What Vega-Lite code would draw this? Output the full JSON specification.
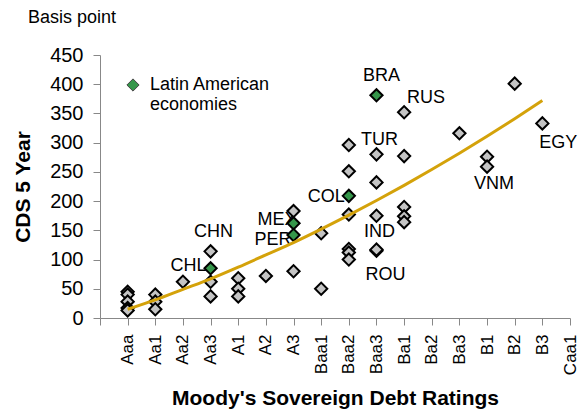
{
  "$schema": "https://vega.github.io/schema/vega-lite/v6.json",
  "width": 470,
  "height": 263,
  "autosize": {"type": "none"},
  "padding": {"left": 100, "top": 55, "right": 12, "bottom": 93},
  "background": "white",
  "config": {
    "view": {"stroke": null},
    "font": "Liberation Sans",
    "axis": {"domainColor": "#888888", "tickColor": "#888888", "grid": false, "labelColor": "#000000", "titleColor": "#000000", "labelFont": "Liberation Sans", "titleFont": "Liberation Sans"}
  },
  "title": {"text": "Basis point", "anchor": "start", "frame": "group", "dx": -72, "offset": 18, "fontSize": 18, "fontWeight": "normal", "font": "Liberation Sans", "color": "#000000"},
  "datasets": {
    "points": [
      {"rating": "Aaa", "cds": 45, "group": "Other", "name": ""},
      {"rating": "Aaa", "cds": 40, "group": "Other", "name": ""},
      {"rating": "Aaa", "cds": 28, "group": "Other", "name": ""},
      {"rating": "Aaa", "cds": 17, "group": "Other", "name": ""},
      {"rating": "Aaa", "cds": 13, "group": "Other", "name": ""},
      {"rating": "Aa1", "cds": 40, "group": "Other", "name": ""},
      {"rating": "Aa1", "cds": 28, "group": "Other", "name": ""},
      {"rating": "Aa1", "cds": 15, "group": "Other", "name": ""},
      {"rating": "Aa2", "cds": 62, "group": "Other", "name": ""},
      {"rating": "Aa3", "cds": 114, "group": "Other", "name": "CHN"},
      {"rating": "Aa3", "cds": 62, "group": "Other", "name": ""},
      {"rating": "Aa3", "cds": 37, "group": "Other", "name": ""},
      {"rating": "A1", "cds": 68, "group": "Other", "name": ""},
      {"rating": "A1", "cds": 50, "group": "Other", "name": ""},
      {"rating": "A1", "cds": 37, "group": "Other", "name": ""},
      {"rating": "A2", "cds": 72, "group": "Other", "name": ""},
      {"rating": "A3", "cds": 183, "group": "Other", "name": ""},
      {"rating": "A3", "cds": 80, "group": "Other", "name": ""},
      {"rating": "Baa1", "cds": 145, "group": "Other", "name": ""},
      {"rating": "Baa1", "cds": 50, "group": "Other", "name": ""},
      {"rating": "Baa2", "cds": 296, "group": "Other", "name": ""},
      {"rating": "Baa2", "cds": 251, "group": "Other", "name": ""},
      {"rating": "Baa2", "cds": 177, "group": "Other", "name": ""},
      {"rating": "Baa2", "cds": 118, "group": "Other", "name": ""},
      {"rating": "Baa2", "cds": 112, "group": "Other", "name": ""},
      {"rating": "Baa2", "cds": 100, "group": "Other", "name": ""},
      {"rating": "Baa3", "cds": 280, "group": "Other", "name": "TUR"},
      {"rating": "Baa3", "cds": 232, "group": "Other", "name": ""},
      {"rating": "Baa3", "cds": 175, "group": "Other", "name": "IND"},
      {"rating": "Baa3", "cds": 115, "group": "Other", "name": ""},
      {"rating": "Baa3", "cds": 117, "group": "Other", "name": "ROU"},
      {"rating": "Ba1", "cds": 352, "group": "Other", "name": "RUS"},
      {"rating": "Ba1", "cds": 277, "group": "Other", "name": ""},
      {"rating": "Ba1", "cds": 190, "group": "Other", "name": ""},
      {"rating": "Ba1", "cds": 174, "group": "Other", "name": ""},
      {"rating": "Ba1", "cds": 164, "group": "Other", "name": ""},
      {"rating": "Ba3", "cds": 316, "group": "Other", "name": ""},
      {"rating": "B1", "cds": 276, "group": "Other", "name": ""},
      {"rating": "B1", "cds": 259, "group": "Other", "name": "VNM"},
      {"rating": "B2", "cds": 401, "group": "Other", "name": ""},
      {"rating": "B3", "cds": 333, "group": "Other", "name": "EGY"},
      {"rating": "Aa3", "cds": 85, "group": "Latin American economies", "name": "CHL"},
      {"rating": "A3", "cds": 162, "group": "Latin American economies", "name": "MEX"},
      {"rating": "A3", "cds": 142, "group": "Latin American economies", "name": "PER"},
      {"rating": "Baa2", "cds": 209, "group": "Latin American economies", "name": "COL"},
      {"rating": "Baa3", "cds": 381, "group": "Latin American economies", "name": "BRA"}
    ],
    "trend": [
      {"rating": "Aaa", "cds": 15},
      {"rating": "Aa1", "cds": 31},
      {"rating": "Aa2", "cds": 49},
      {"rating": "Aa3", "cds": 67},
      {"rating": "A1", "cds": 87},
      {"rating": "A2", "cds": 108},
      {"rating": "A3", "cds": 129},
      {"rating": "Baa1", "cds": 152},
      {"rating": "Baa2", "cds": 176},
      {"rating": "Baa3", "cds": 201},
      {"rating": "Ba1", "cds": 227},
      {"rating": "Ba2", "cds": 254},
      {"rating": "Ba3", "cds": 282},
      {"rating": "B1", "cds": 311},
      {"rating": "B2", "cds": 341},
      {"rating": "B3", "cds": 372}
    ]
  },
  "encoding": {
    "x": {
      "field": "rating", "type": "ordinal",
      "scale": {"type": "point", "padding": 0, "domain": [" ", "Aaa", "Aa1", "Aa2", "Aa3", "A1", "A2", "A3", "Baa1", "Baa2", "Baa3", "Ba1", "Ba2", "Ba3", "B1", "B2", "B3", "Caa1"]},
      "axis": {"title": "Moody's Sovereign Debt Ratings", "titleFontSize": 21, "titleFontWeight": "bold", "titlePadding": 13, "labelAngle": -90, "labelFontSize": 17, "labelPadding": 9, "tickSize": 7, "labelAlign": "right", "labelBaseline": "middle"}
    },
    "y": {
      "field": "cds", "type": "quantitative",
      "scale": {"domain": [0, 450], "nice": false},
      "axis": {"title": "CDS 5 Year", "titleFontSize": 21, "titleFontWeight": "bold", "titlePadding": 16, "labelFontSize": 20, "labelPadding": 10, "tickSize": 7, "values": [0, 50, 100, 150, 200, 250, 300, 350, 400, 450]}
    }
  },
  "layer": [
    {"data": {"name": "points"}, "transform": [{"filter": "datum.name == 'BRA'"}], "mark": {"type": "text", "fontSize": 18, "align": "center", "baseline": "middle", "dx": 5, "dy": -19, "color": "#000"}, "encoding": {"text": {"field": "name"}}},
    {"data": {"name": "points"}, "transform": [{"filter": "datum.name == 'RUS'"}], "mark": {"type": "text", "fontSize": 18, "align": "left", "baseline": "middle", "dx": 3, "dy": -14, "color": "#000"}, "encoding": {"text": {"field": "name"}}},
    {"data": {"name": "points"}, "transform": [{"filter": "datum.name == 'TUR'"}], "mark": {"type": "text", "fontSize": 18, "align": "center", "baseline": "middle", "dx": 3, "dy": -14, "color": "#000"}, "encoding": {"text": {"field": "name"}}},
    {"data": {"name": "points"}, "transform": [{"filter": "datum.name == 'COL'"}], "mark": {"type": "text", "fontSize": 18, "align": "right", "baseline": "middle", "dx": -4, "dy": 1, "color": "#000"}, "encoding": {"text": {"field": "name"}}},
    {"data": {"name": "points"}, "transform": [{"filter": "datum.name == 'CHL'"}], "mark": {"type": "text", "fontSize": 18, "align": "right", "baseline": "middle", "dx": -4, "dy": -2, "color": "#000"}, "encoding": {"text": {"field": "name"}}},
    {"data": {"name": "points"}, "transform": [{"filter": "datum.name == 'CHN'"}], "mark": {"type": "text", "fontSize": 18, "align": "center", "baseline": "middle", "dx": 3, "dy": -19, "color": "#000"}, "encoding": {"text": {"field": "name"}}},
    {"data": {"name": "points"}, "transform": [{"filter": "datum.name == 'MEX'"}], "mark": {"type": "text", "fontSize": 18, "align": "right", "baseline": "middle", "dx": 3, "dy": -3, "color": "#000"}, "encoding": {"text": {"field": "name"}}},
    {"data": {"name": "points"}, "transform": [{"filter": "datum.name == 'PER'"}], "mark": {"type": "text", "fontSize": 18, "align": "right", "baseline": "middle", "dx": -2, "dy": 5, "color": "#000"}, "encoding": {"text": {"field": "name"}}},
    {"data": {"name": "points"}, "transform": [{"filter": "datum.name == 'IND'"}], "mark": {"type": "text", "fontSize": 18, "align": "center", "baseline": "middle", "dx": 3, "dy": 16, "color": "#000"}, "encoding": {"text": {"field": "name"}}},
    {"data": {"name": "points"}, "transform": [{"filter": "datum.name == 'ROU'"}], "mark": {"type": "text", "fontSize": 18, "align": "center", "baseline": "middle", "dx": 9, "dy": 25, "color": "#000"}, "encoding": {"text": {"field": "name"}}},
    {"data": {"name": "points"}, "transform": [{"filter": "datum.name == 'VNM'"}], "mark": {"type": "text", "fontSize": 18, "align": "center", "baseline": "middle", "dx": 7, "dy": 17, "color": "#000"}, "encoding": {"text": {"field": "name"}}},
    {"data": {"name": "points"}, "transform": [{"filter": "datum.name == 'EGY'"}], "mark": {"type": "text", "fontSize": 18, "align": "center", "baseline": "middle", "dx": 16, "dy": 20, "color": "#000"}, "encoding": {"text": {"field": "name"}}},
    {
      "data": {"name": "points"},
      "mark": {"type": "point", "shape": "diamond", "filled": true, "size": 150, "stroke": "#000000", "strokeWidth": 2, "opacity": 1},
      "encoding": {
        "color": {
          "field": "group", "type": "nominal",
          "scale": {"domain": ["Latin American economies", "Other"], "range": ["#35964a", "#c4c4c4"]},
          "legend": {
            "title": null, "values": ["Latin American economies"], "orient": "none", "legendX": 24, "legendY": 21,
            "symbolType": "diamond", "symbolSize": 150, "symbolStrokeColor": "#444444", "symbolStrokeWidth": 1,
            "labelFontSize": 18, "labelFont": "Liberation Sans", "labelColor": "#000000", "labelOffset": 8,
            "labelExpr": "['Latin American', 'economies']", "padding": 0
          }
        }
      }
    },
    {
      "data": {"name": "trend"},
      "mark": {"type": "line", "color": "#d4a20a", "strokeWidth": 3, "interpolate": "monotone"},
      "encoding": {}
    }
  ]
}
